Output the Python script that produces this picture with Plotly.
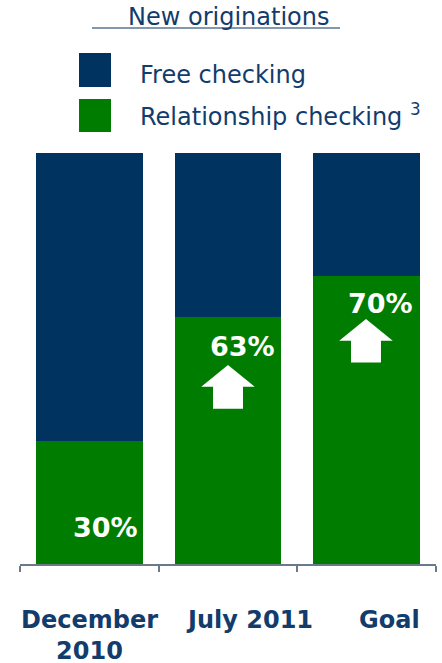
import plotly.graph_objects as go

# ---- data ----
categories = ["December<br>2010", "July 2011", "Goal"]
relationship_pct = [30, 60.2, 70]          # drawn height of green segment
relationship_labels = ["30%", "63%", "70%"]
free_pct = [100 - v for v in relationship_pct]
series_names = ["Free checking", "Relationship checking"]

NAVY = "#00335f"
GREEN = "#007d00"
TEXT = "#123c6b"
AXIS = "#6b7a8a"

W, H = 442, 663
ML, MR, MT, MB = 20, 6, 153, 99
PW, PH = W - ML - MR, H - MT - MB


def px(x):
    return (x - ML) / PW


def py(y):
    return (H - MB - y) / PH


xs = list(range(len(categories)))

fig = go.Figure()
fig.add_trace(go.Bar(x=xs, y=relationship_pct, name=series_names[1],
                     marker=dict(color=GREEN, line=dict(width=0)), width=0.77))
fig.add_trace(go.Bar(x=xs, y=free_pct, name=series_names[0],
                     marker=dict(color=NAVY, line=dict(width=0)), width=0.77))

annotations = []
shapes = []

# value labels
label_pos = [(0.117, 8.9), (1.105, 52.8), (2.10, 63.5)]
for (lx, ly), t in zip(label_pos, relationship_labels):
    annotations.append(dict(x=lx, y=ly, xref="x", yref="y", text=f"<b>{t}</b>",
                            showarrow=False, xanchor="center", yanchor="middle",
                            font=dict(family="DejaVu Sans", size=27, color="white")))

# white block arrows (for increases)
arrow_tips = [(1.0, 48.4), (1.995, 59.6)]
for cx, tip in arrow_tips:
    hw, sw, hh, th = 0.193, 0.108, 5.3, 10.6
    path = (f"M {cx} {tip} L {cx + hw} {tip - hh} L {cx + sw} {tip - hh} "
            f"L {cx + sw} {tip - th} L {cx - sw} {tip - th} L {cx - sw} {tip - hh} "
            f"L {cx - hw} {tip - hh} Z")
    shapes.append(dict(type="path", path=path, xref="x", yref="y",
                       fillcolor="white", line=dict(width=0)))

# category labels
cat_pos = [89, 249, 389]
for c, cxp in zip(categories, cat_pos):
    annotations.append(dict(x=px(cxp), y=py(605), xref="paper", yref="paper",
                            text=f"<b>{c}</b>", showarrow=False, yanchor="top",
                            xanchor="center", borderpad=0,
                            font=dict(family="DejaVu Sans", size=24, color=TEXT)))

# title with underline
annotations.append(dict(x=px(229), y=py(17), xref="paper", yref="paper",
                        text="New originations", showarrow=False,
                        xanchor="center", yanchor="middle",
                        font=dict(family="DejaVu Sans", size=24, color=TEXT)))
shapes.append(dict(type="line", xref="paper", yref="paper",
                   x0=px(92), x1=px(340), y0=py(28), y1=py(28),
                   line=dict(color="#5a7592", width=1.5)))

# manual legend
leg = [(series_names[0], NAVY, 53, 87, 75, ""),
       (series_names[1], GREEN, 99, 132, 115, " <sup>3</sup>")]
for name, col, y0, y1, yc, sup in leg:
    shapes.append(dict(type="rect", xref="paper", yref="paper",
                       x0=px(79), x1=px(111), y0=py(y1), y1=py(y0),
                       fillcolor=col, line=dict(width=0)))
    annotations.append(dict(x=px(138), y=py(yc), xref="paper", yref="paper",
                            text=name + sup, showarrow=False, xanchor="left",
                            yanchor="middle",
                            font=dict(family="DejaVu Sans", size=24, color=TEXT)))

fig.update_layout(
    width=W, height=H, margin=dict(l=ML, r=MR, t=MT, b=MB),
    barmode="stack", showlegend=False,
    paper_bgcolor="white", plot_bgcolor="white",
    annotations=annotations, shapes=shapes,
    xaxis=dict(range=[-0.5, 2.5], tickvals=[-0.5, 0.5, 1.5, 2.5],
               showticklabels=False, ticks="outside", ticklen=6,
               tickcolor=AXIS, tickwidth=1.5, showline=True, linecolor=AXIS,
               linewidth=1.5, showgrid=False, zeroline=False, fixedrange=True),
    yaxis=dict(range=[0, 100], visible=False, fixedrange=True),
)

fig.write_html("out.html")
